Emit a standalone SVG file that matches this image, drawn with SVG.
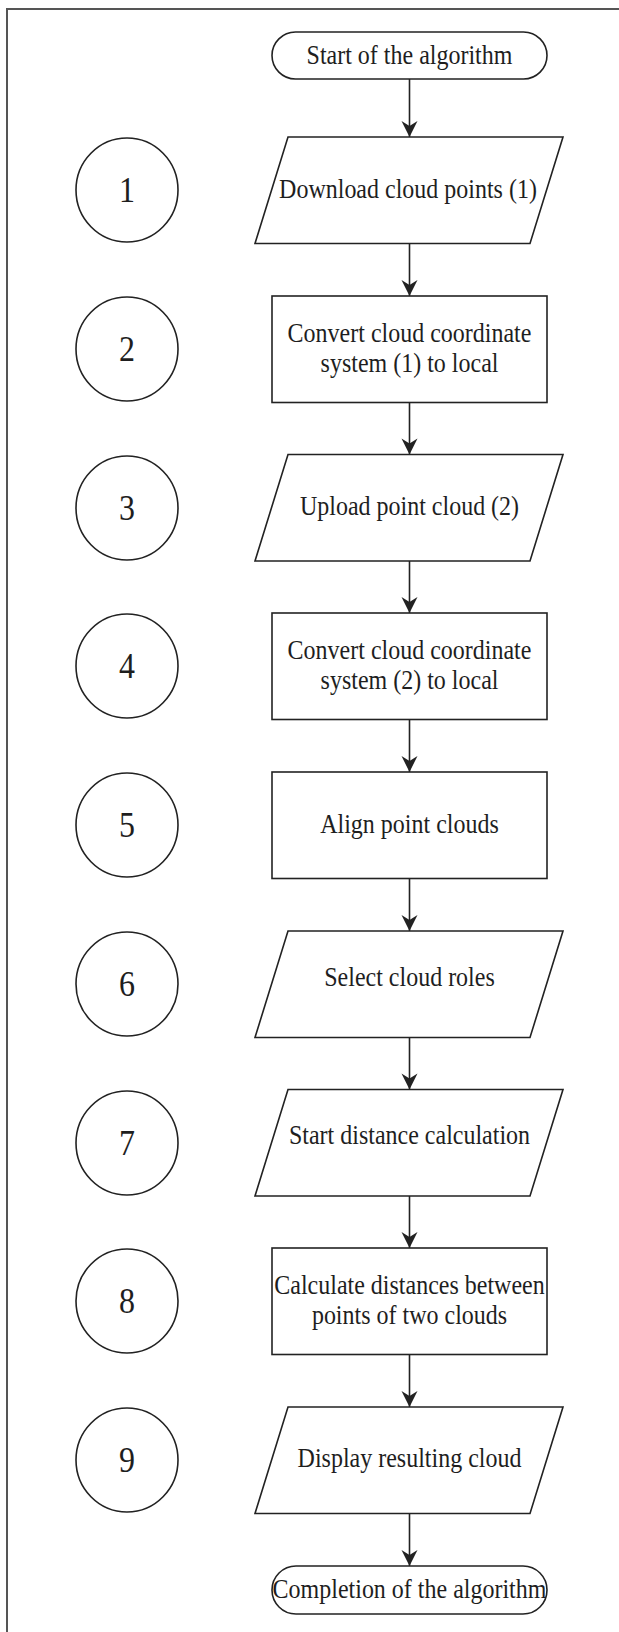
<svg xmlns="http://www.w3.org/2000/svg" width="619" height="1632" viewBox="0 0 619 1632">
<style>
.s{fill:#fff;stroke:#222;stroke-width:1.6}
.t{font-family:"Liberation Serif","Times New Roman",serif;font-size:24px;fill:#1e1e1e;text-anchor:middle}
.n{font-family:"Liberation Serif","Times New Roman",serif;font-size:32px;fill:#1e1e1e;text-anchor:middle}
.c{fill:none;stroke:#222;stroke-width:1.6}
</style>
<defs>
<marker id="ah" markerUnits="userSpaceOnUse" markerWidth="18" markerHeight="18" viewBox="-17 -9 18 18" refX="0" refY="0" orient="auto">
<path d="M0,0 L-16,-8 L-11,0 L-16,8 Z" fill="#222"/>
</marker>
</defs>
<rect x="0" y="0" width="619" height="1632" fill="#fff"/>
<g id="frame">
<path d="M7,1632 L7,9 L619,9" fill="none" stroke="#555" stroke-width="2"/>
</g>
<g id="connectors">
<line class="c" x1="409.5" y1="79" x2="409.5" y2="137" marker-end="url(#ah)"/>
<line class="c" x1="409.5" y1="243.5" x2="409.5" y2="296" marker-end="url(#ah)"/>
<line class="c" x1="409.5" y1="402.5" x2="409.5" y2="454.5" marker-end="url(#ah)"/>
<line class="c" x1="409.5" y1="561" x2="409.5" y2="613" marker-end="url(#ah)"/>
<line class="c" x1="409.5" y1="719.5" x2="409.5" y2="772" marker-end="url(#ah)"/>
<line class="c" x1="409.5" y1="878.5" x2="409.5" y2="931" marker-end="url(#ah)"/>
<line class="c" x1="409.5" y1="1037.5" x2="409.5" y2="1089.5" marker-end="url(#ah)"/>
<line class="c" x1="409.5" y1="1196" x2="409.5" y2="1248" marker-end="url(#ah)"/>
<line class="c" x1="409.5" y1="1354.5" x2="409.5" y2="1407" marker-end="url(#ah)"/>
<line class="c" x1="409.5" y1="1513.5" x2="409.5" y2="1566" marker-end="url(#ah)"/>
</g>
<g id="start">
<rect class="s" x="272" y="32" width="275" height="47" rx="23.5"/>
<text class="t" transform="translate(409.5,64) scale(1,1.12)">Start of the algorithm</text>
</g>
<g id="node1">
<polygon class="s" points="288,137 563,137 530,243.5 255,243.5"/>
<text class="t" transform="translate(408,198) scale(1,1.12)">Download cloud points (1)</text>
</g>
<g id="node2">
<rect class="s" x="272" y="296" width="275" height="106.5"/>
<text class="t" transform="translate(409.5,342) scale(1,1.12)">Convert cloud coordinate</text>
<text class="t" transform="translate(409.5,372) scale(1,1.12)">system (1) to local</text>
</g>
<g id="node3">
<polygon class="s" points="288,454.5 563,454.5 530,561 255,561"/>
<text class="t" transform="translate(409.5,515) scale(1,1.12)">Upload point cloud (2)</text>
</g>
<g id="node4">
<rect class="s" x="272" y="613" width="275" height="106.5"/>
<text class="t" transform="translate(409.5,659) scale(1,1.12)">Convert cloud coordinate</text>
<text class="t" transform="translate(409.5,689) scale(1,1.12)">system (2) to local</text>
</g>
<g id="node5">
<rect class="s" x="272" y="772" width="275" height="106.5"/>
<text class="t" transform="translate(409.5,833) scale(1,1.12)">Align point clouds</text>
</g>
<g id="node6">
<polygon class="s" points="288,931 563,931 530,1037.5 255,1037.5"/>
<text class="t" transform="translate(409.5,986) scale(1,1.12)">Select cloud roles</text>
</g>
<g id="node7">
<polygon class="s" points="288,1089.5 563,1089.5 530,1196 255,1196"/>
<text class="t" transform="translate(409.5,1144) scale(1,1.12)">Start distance calculation</text>
</g>
<g id="node8">
<rect class="s" x="272" y="1248" width="275" height="106.5"/>
<text class="t" transform="translate(409.5,1294) scale(1,1.12)">Calculate distances between</text>
<text class="t" transform="translate(409.5,1324) scale(1,1.12)">points of two clouds</text>
</g>
<g id="node9">
<polygon class="s" points="288,1407 563,1407 530,1513.5 255,1513.5"/>
<text class="t" transform="translate(409.5,1467) scale(1,1.12)">Display resulting cloud</text>
</g>
<g id="end">
<rect class="s" x="272" y="1566" width="275" height="48" rx="24"/>
<text class="t" transform="translate(409.5,1598) scale(1,1.12)">Completion of the algorithm</text>
</g>
<g id="circle1"><ellipse class="s" cx="127" cy="190" rx="51" ry="52"/><text class="n" transform="translate(127,202) scale(1,1.12)">1</text></g>
<g id="circle2"><ellipse class="s" cx="127" cy="349" rx="51" ry="52"/><text class="n" transform="translate(127,361) scale(1,1.12)">2</text></g>
<g id="circle3"><ellipse class="s" cx="127" cy="508" rx="51" ry="52"/><text class="n" transform="translate(127,520) scale(1,1.12)">3</text></g>
<g id="circle4"><ellipse class="s" cx="127" cy="666" rx="51" ry="52"/><text class="n" transform="translate(127,678) scale(1,1.12)">4</text></g>
<g id="circle5"><ellipse class="s" cx="127" cy="825" rx="51" ry="52"/><text class="n" transform="translate(127,837) scale(1,1.12)">5</text></g>
<g id="circle6"><ellipse class="s" cx="127" cy="984" rx="51" ry="52"/><text class="n" transform="translate(127,996) scale(1,1.12)">6</text></g>
<g id="circle7"><ellipse class="s" cx="127" cy="1143" rx="51" ry="52"/><text class="n" transform="translate(127,1155) scale(1,1.12)">7</text></g>
<g id="circle8"><ellipse class="s" cx="127" cy="1301" rx="51" ry="52"/><text class="n" transform="translate(127,1313) scale(1,1.12)">8</text></g>
<g id="circle9"><ellipse class="s" cx="127" cy="1460" rx="51" ry="52"/><text class="n" transform="translate(127,1472) scale(1,1.12)">9</text></g>
</svg>
